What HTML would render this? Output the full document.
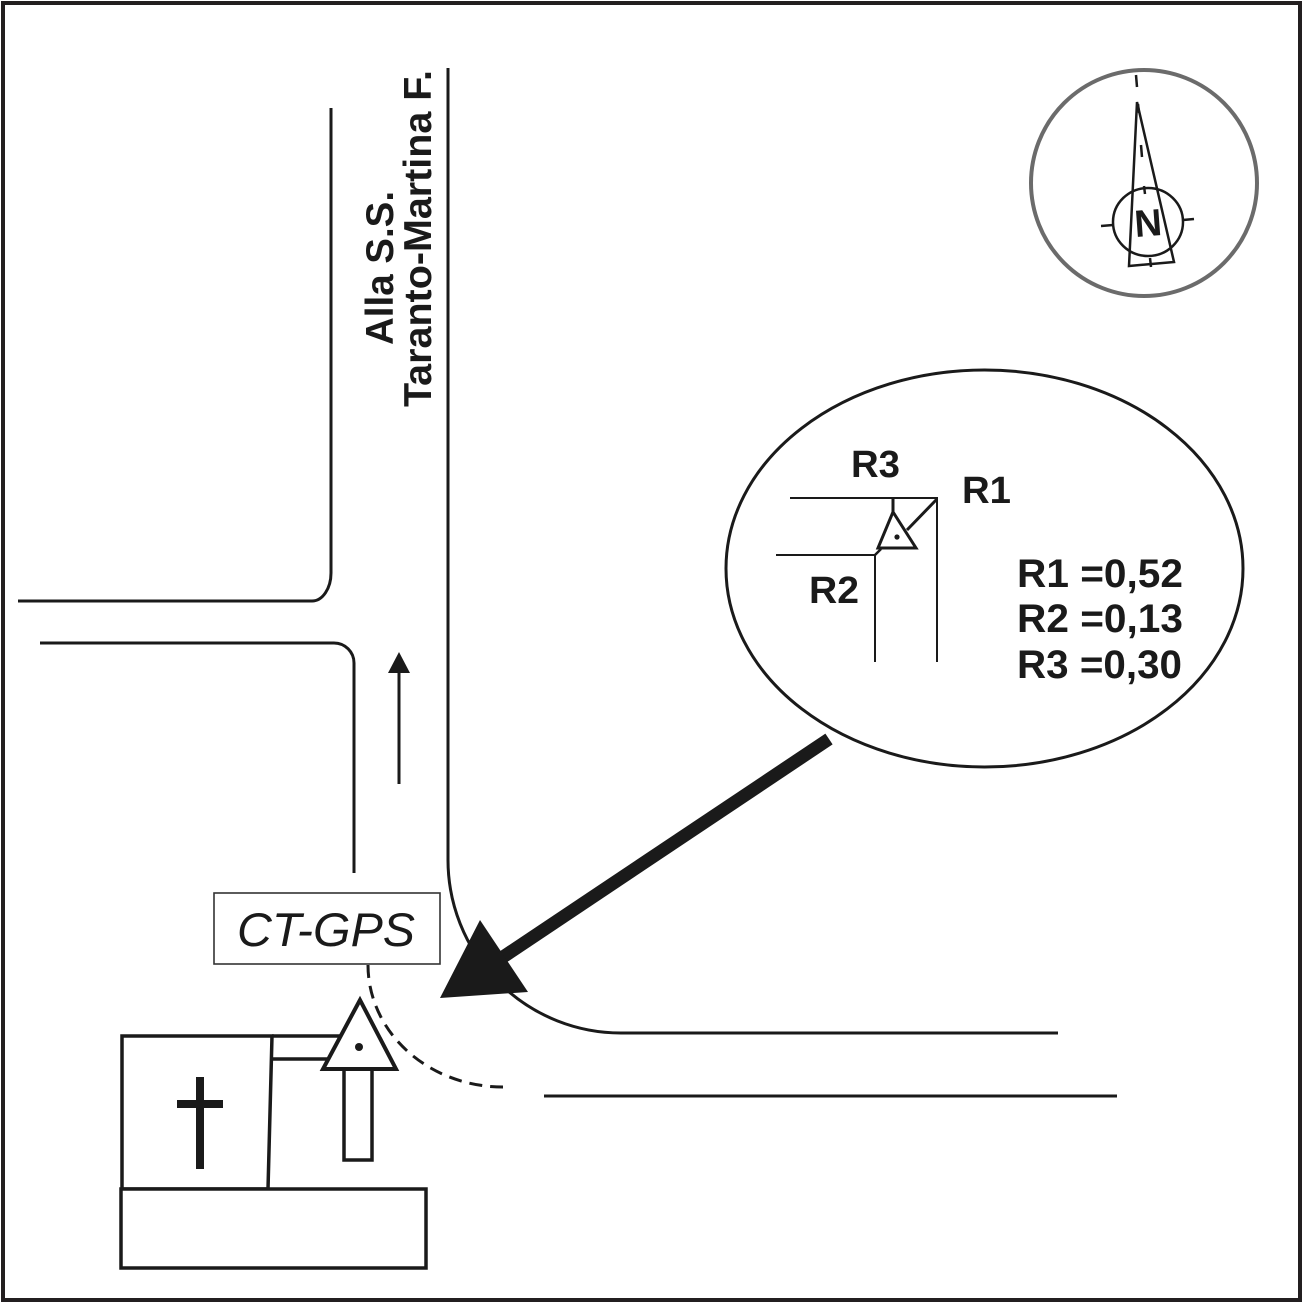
<!DOCTYPE html>
<html>
<head>
<meta charset="utf-8">
<style>
  html,body{margin:0;padding:0;background:#fff;}
  svg{display:block;}
  text{font-family:"Liberation Sans", Arial, sans-serif;}
</style>
</head>
<body>
<svg width="1303" height="1303" viewBox="0 0 1303 1303" xmlns="http://www.w3.org/2000/svg">
  <rect x="0" y="0" width="1303" height="1303" fill="#fff"/>
  <!-- outer frame -->
  <rect x="3" y="3" width="1297" height="1297" fill="none" stroke="#231f20" stroke-width="4"/>

  <!-- roads -->
  <g fill="none" stroke="#1a1a1a" stroke-width="3">
    <path d="M18,601 H312 A19,28 0 0 0 331,573 V108"/>
    <path d="M40,643 H334 A20,20 0 0 1 354,663 V873"/>
    <path d="M448,68 V860 A173,173 0 0 0 621,1033 H1058"/>
    <path d="M544,1096 H1117"/>
  </g>

  <!-- dashed curve -->
  <path d="M368,965 A135,122 0 0 0 503,1087" fill="none" stroke="#1a1a1a" stroke-width="3" stroke-dasharray="13,8"/>

  <!-- small up arrow -->
  <line x1="399" y1="670" x2="399" y2="784" stroke="#1a1a1a" stroke-width="3"/>
  <polygon points="399,652 388,673 410,673" fill="#1a1a1a"/>

  <!-- road labels -->
  <text transform="translate(393,345) rotate(-90)" font-size="38.5" font-weight="bold" fill="#1a1a1a">Alla S.S.</text>
  <text transform="translate(431,407) rotate(-90)" font-size="38.5" font-weight="bold" fill="#1a1a1a" textLength="337" lengthAdjust="spacingAndGlyphs">Taranto-Martina F.</text>

  <!-- compass -->
  <circle cx="1144" cy="183" r="113" fill="none" stroke="#6b6b6b" stroke-width="4"/>
  <g stroke="#1a1a1a" fill="none">
    <polygon points="1137,102 1129,266 1174,262" stroke-width="2.5" stroke-linejoin="miter"/>
    <ellipse cx="1148" cy="222" rx="35" ry="34" stroke-width="2.5"/>
    <line x1="1101" y1="226" x2="1113" y2="225" stroke-width="2.5"/>
    <line x1="1183" y1="220" x2="1194" y2="219" stroke-width="2.5"/>
    <line x1="1144" y1="186" x2="1145" y2="194" stroke-width="2.5"/>
    <line x1="1150" y1="258" x2="1151" y2="267" stroke-width="2.5"/>
    <line x1="1136" y1="75" x2="1137" y2="87" stroke-width="2.5"/>
    <line x1="1141" y1="145" x2="1142" y2="157" stroke-width="2.5"/>
    <line x1="1138" y1="104" x2="1139" y2="113" stroke-width="2.5"/>
  </g>
  <text x="1148" y="236" font-size="38" font-weight="bold" text-anchor="middle" fill="#1a1a1a" transform="rotate(-4.2 1148 222)">N</text>

  <!-- detail ellipse -->
  <ellipse cx="984.5" cy="568.5" rx="258.5" ry="198.5" fill="none" stroke="#1a1a1a" stroke-width="3"/>
  <g fill="none" stroke="#1a1a1a">
    <path d="M790,498 H937 V662" stroke-width="2"/>
    <path d="M776,555 H875 V662" stroke-width="2"/>
    <line x1="893" y1="498" x2="893" y2="512" stroke-width="3"/>
    <line x1="937" y1="499" x2="907" y2="530" stroke-width="3"/>
    <line x1="875" y1="555" x2="881" y2="549" stroke-width="2.5"/>
    <polygon points="893,512 878,548 916,548" fill="#fff" stroke-width="3"/>
  </g>
  <circle cx="897" cy="537" r="2.6" fill="#1a1a1a"/>

  <g font-weight="bold" fill="#1a1a1a">
    <text x="851" y="477" font-size="38" textLength="49" lengthAdjust="spacingAndGlyphs">R3</text>
    <text x="962" y="503" font-size="38" textLength="49" lengthAdjust="spacingAndGlyphs">R1</text>
    <text x="809" y="603" font-size="38" textLength="50" lengthAdjust="spacingAndGlyphs">R2</text>
    <text x="1017" y="587" font-size="40" textLength="166" lengthAdjust="spacingAndGlyphs">R1 =0,52</text>
    <text x="1017" y="632" font-size="40" textLength="166" lengthAdjust="spacingAndGlyphs">R2 =0,13</text>
    <text x="1017" y="678" font-size="40" textLength="165" lengthAdjust="spacingAndGlyphs">R3 =0,30</text>
  </g>

  <!-- main arrow -->
  <line x1="829" y1="739" x2="500" y2="959" stroke="#1a1a1a" stroke-width="13"/>
  <polygon points="440,998 480,920 528,992" fill="#1a1a1a"/>

  <!-- CT-GPS label -->
  <rect x="214" y="893" width="226" height="71" fill="#fff" stroke="#333" stroke-width="1.6"/>
  <text x="237" y="946" font-size="47" font-style="italic" fill="#1a1a1a" textLength="178" lengthAdjust="spacingAndGlyphs">CT-GPS</text>

  <!-- building -->
  <g fill="#fff" stroke="#1a1a1a" stroke-width="3.5" stroke-linejoin="miter">
    <polygon points="122,1036 272,1036 268,1189 122,1189"/>
    <rect x="121" y="1189" width="305" height="79"/>
    <line x1="272" y1="1036" x2="342" y2="1036"/>
    <line x1="270" y1="1059" x2="329" y2="1059"/>
    <rect x="344" y="1069" width="28" height="91"/>
    <polygon points="360,1000 323,1069 396,1069" stroke-width="4"/>
  </g>
  <circle cx="359" cy="1047" r="4" fill="#1a1a1a"/>
  <!-- cross -->
  <rect x="196" y="1077" width="8" height="92" fill="#1a1a1a"/>
  <rect x="177" y="1100" width="46" height="8" fill="#1a1a1a"/>
</svg>
</body>
</html>
